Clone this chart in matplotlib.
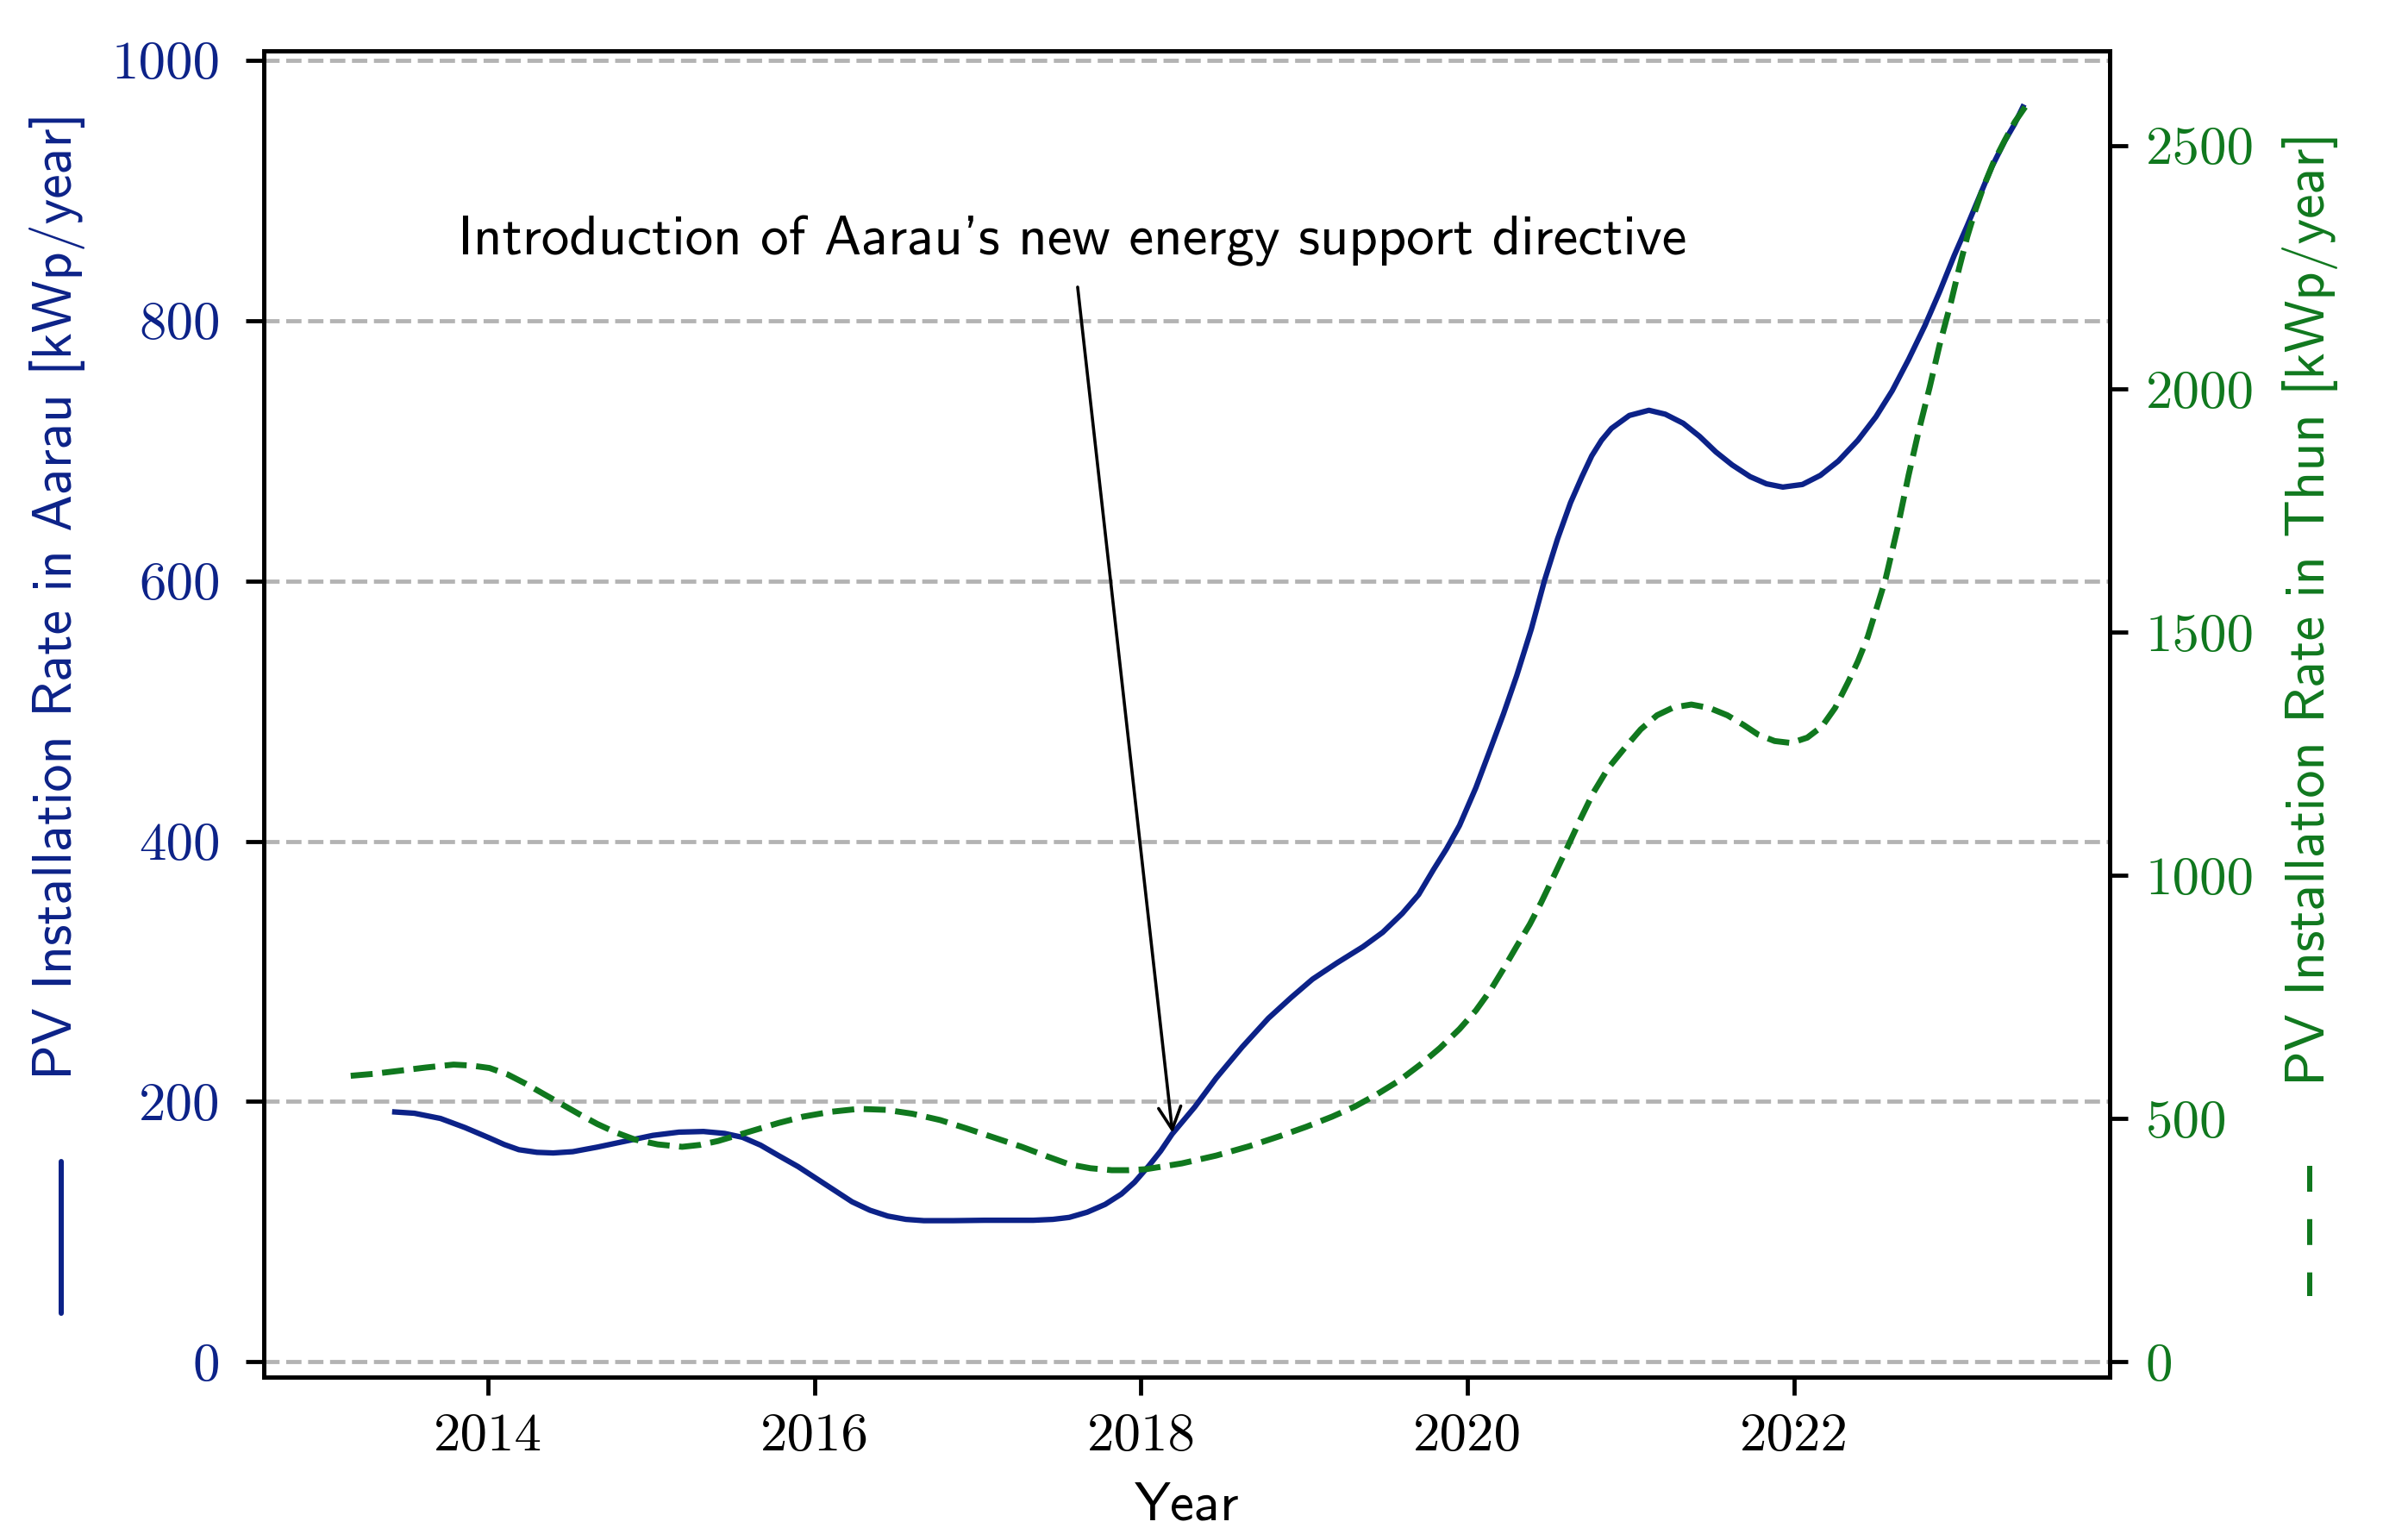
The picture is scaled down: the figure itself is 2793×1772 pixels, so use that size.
import matplotlib
matplotlib.use("Agg")
import matplotlib.pyplot as plt
from matplotlib.lines import Line2D

# ---------------------------------------------------------------------------
# Smoothed yearly PV installation rates (kWp/year)
# ---------------------------------------------------------------------------
years_aarau = [2013.43, 2013.55, 2013.71, 2013.86, 2014.01, 2014.10, 2014.19,
               2014.30, 2014.40, 2014.52, 2014.67, 2014.84, 2015.01, 2015.17,
               2015.32, 2015.45, 2015.56, 2015.67, 2015.78, 2015.90, 2016.01,
               2016.12, 2016.23, 2016.34, 2016.45, 2016.56, 2016.67, 2016.85,
               2017.04, 2017.20, 2017.34, 2017.46, 2017.56, 2017.67, 2017.78,
               2017.88, 2017.96, 2018.05, 2018.12, 2018.19, 2018.33, 2018.46,
               2018.62, 2018.78, 2018.92, 2019.05, 2019.20, 2019.36, 2019.48,
               2019.60, 2019.70, 2019.79, 2019.87, 2019.95, 2020.05, 2020.14,
               2020.22, 2020.30, 2020.39, 2020.47, 2020.55, 2020.63, 2020.70,
               2020.76, 2020.82, 2020.88, 2020.99, 2021.11, 2021.21, 2021.32,
               2021.42, 2021.52, 2021.62, 2021.73, 2021.83, 2021.93, 2022.05,
               2022.16, 2022.27, 2022.39, 2022.50, 2022.60, 2022.70, 2022.80,
               2022.89, 2022.98, 2023.06, 2023.14, 2023.21, 2023.29, 2023.35,
               2023.40]
rate_aarau = [192, 191, 187, 180, 172, 167, 163,
              161, 160.5, 161.5, 165, 169.5, 174, 176.5,
              177, 175.5, 172.5, 166.5, 158.5, 150, 141,
              132, 123, 116.5, 112, 109.5, 108.5, 108.5,
              108.8, 108.8, 108.8, 109.5, 111, 115, 121,
              129, 138, 151, 162, 175, 196, 218,
              242, 264, 280, 294, 306.5, 319, 330,
              344.5, 359, 378, 394, 412, 441, 471,
              498, 527, 563, 600, 632, 660, 680,
              696, 708, 717, 727, 731, 728, 721,
              711, 699, 689, 680, 674.5, 672, 674,
              681, 692, 708, 726, 746, 770, 796,
              822, 850, 873, 897, 918, 938, 951,
              964]

years_thun = [2013.16, 2013.30, 2013.45, 2013.62, 2013.79, 2013.90, 2014.01,
              2014.12, 2014.23, 2014.34, 2014.45, 2014.56, 2014.67, 2014.78,
              2014.90, 2015.04, 2015.19, 2015.30, 2015.41, 2015.52, 2015.64,
              2015.78, 2015.93, 2016.10, 2016.27, 2016.44, 2016.60, 2016.77,
              2016.93, 2017.10, 2017.27, 2017.42, 2017.56, 2017.69, 2017.82,
              2017.92, 2018.03, 2018.25, 2018.46, 2018.66, 2018.85, 2019.01,
              2019.17, 2019.31, 2019.44, 2019.58, 2019.71, 2019.83, 2019.95,
              2020.05, 2020.14, 2020.22, 2020.30, 2020.38, 2020.45, 2020.53,
              2020.61, 2020.69, 2020.77, 2020.86, 2020.96, 2021.06, 2021.16,
              2021.26, 2021.37, 2021.48, 2021.59, 2021.69, 2021.78, 2021.88,
              2021.98, 2022.08, 2022.17, 2022.25, 2022.33, 2022.39, 2022.45,
              2022.51, 2022.56, 2022.63, 2022.70, 2022.76, 2022.83, 2022.89,
              2022.96, 2023.01, 2023.06, 2023.11, 2023.16, 2023.22, 2023.29,
              2023.35, 2023.42]
rate_thun = [588, 592, 598, 605, 611, 609, 604,
             591, 572, 551, 530, 509, 489, 472,
             457, 447, 442, 446, 454, 465, 477,
             491, 504, 514, 520, 518, 510, 497,
             480, 461, 442, 423, 406, 398, 394,
             394, 396, 408, 424, 443, 464, 483,
             504, 525, 549, 578, 611, 645, 684,
             722, 764, 808, 854, 899, 944, 1000,
             1057, 1115, 1170, 1220, 1261, 1300, 1329,
             1345, 1351, 1344, 1329, 1309, 1289, 1276,
             1272, 1283, 1306, 1344, 1397, 1440, 1490,
             1555, 1610, 1710, 1822, 1910, 2004, 2090,
             2178, 2248, 2313, 2368, 2416, 2465, 2511,
             2548, 2582]

aarau_ticks = [0, 200, 400, 600, 800, 1000]
thun_ticks = [0, 500, 1000, 1500, 2000, 2500]

directive_year = 2018.2
directive_rate = 168
directive_text = "Introduction of Aarau's new energy support directive"

BLUE = "#0c2288"
GREEN = "#10781e"
SANS = ["cmss10", "DejaVu Sans"]

plt.rcParams["font.family"] = "cmr10"
plt.rcParams["font.size"] = 10.5
plt.rcParams["axes.formatter.use_mathtext"] = False

fig = plt.figure(figsize=(2793 / 432, 1772 / 432), dpi=432)
fig.subplots_adjust(left=0.1097, right=0.8760, top=0.9669, bottom=0.0989)
ax = fig.add_subplot(111)
ax2 = ax.twinx()

ax.plot(years_aarau, rate_aarau, "-", color=BLUE, lw=1.05,
        solid_joinstyle="round")
ax2.plot(years_thun, rate_thun, "--", color=GREEN, lw=1.15,
         dash_joinstyle="round")

ax.set_xlim(2012.63, 2023.93)
ax.set_ylim(-11.5, 1007.3)
ax2.set_ylim(-30.8, 2695)

ax.set_yticks(aarau_ticks)
ax2.set_yticks(thun_ticks)
ax.tick_params(axis="y", labelcolor=BLUE, pad=5)
ax2.tick_params(axis="y", labelcolor=GREEN)
ax.yaxis.grid(True, linestyle="--", color="#b3b3b3", lw=0.8)
ax.set_axisbelow(True)

ax.set_xlabel("Year", family=SANS, fontsize=10.5)

# Axis labels with a line-style key underneath each one
fig.text(67 / 2793, 1 - 1252 / 1772, "PV Installation Rate in Aarau [kWp/year]",
         rotation=90, ha="center", va="bottom", color=BLUE, family=SANS,
         fontsize=10.7)
fig.add_artist(Line2D([71 / 2793, 71 / 2793], [1 - 1347 / 1772, 1 - 1523 / 1772],
                      transform=fig.transFigure, color=BLUE, lw=1.0,
                      solid_capstyle="round"))

fig.text(2680 / 2793, 1 - 1258.6 / 1772, "PV Installation Rate in Thun [kWp/year]",
         rotation=90, ha="center", va="bottom", color=GREEN, family=SANS,
         fontsize=10.7)
key = Line2D([2679 / 2793, 2679 / 2793], [1 - 1352 / 1772, 1 - 1503 / 1772],
             transform=fig.transFigure, color=GREEN, lw=1.0,
             solid_capstyle="butt")
key.set_dashes((5.0, 5.3))
fig.add_artist(key)

ax.annotate(directive_text, xy=(directive_year, directive_rate),
            xytext=(2017.58, 861), textcoords="data",
            ha="center", va="center", family=SANS, fontsize=10.8,
            arrowprops=dict(arrowstyle="->", color="black", lw=0.6))

fig.savefig("out.png", dpi=432)
